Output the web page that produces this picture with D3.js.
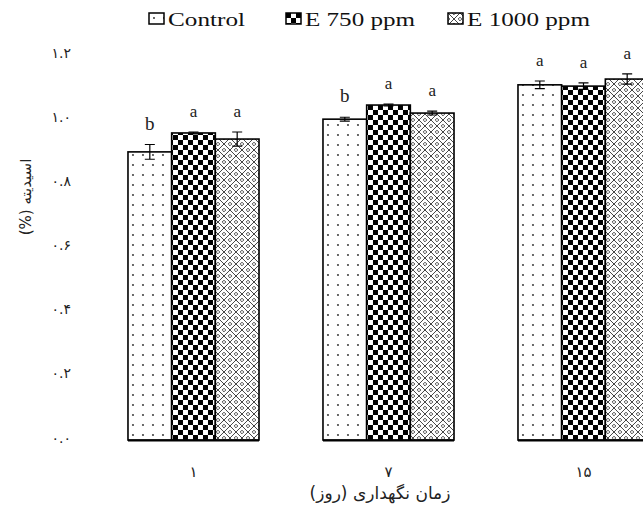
<!DOCTYPE html>
<html>
<head>
<meta charset="utf-8">
<script src="https://cdn.jsdelivr.net/npm/d3@7"></script>
<style>
  body { margin: 0; background: #fff; }
  svg { display: block; }
</style>
</head>
<body>
<div id="chart"></div>
<script>
// values
var categories = ["۱", "۷", "۱۵"];
var seriesNames = ["Control", "E 750 ppm", "E 1000 ppm"];
var controlValues = [0.898, 1.000, 1.107];
var e750Values = [0.957, 1.044, 1.103];
var e1000Values = [0.938, 1.019, 1.125];
var controlErrors = [0.023, 0.006, 0.012];
var e750Errors = [0.003, 0.003, 0.010];
var e1000Errors = [0.022, 0.006, 0.016];
var controlLetters = ["b", "b", "a"];
var e750Letters = ["a", "a", "a"];
var e1000Letters = ["a", "a", "a"];
var yTicks = [0, 0.2, 0.4, 0.6, 0.8, 1.0, 1.2];

var values = [controlValues, e750Values, e1000Values];
var errors = [controlErrors, e750Errors, e1000Errors];
var letters = [controlLetters, e750Letters, e1000Letters];
var fills = ["url(#dots)", "url(#checker)", "url(#lattice)"];

var persianDigits = "۰۱۲۳۴۵۶۷۸۹";
function toPersian(s) {
    return s.replace(/[0-9]/g, function (d) { return persianDigits[+d]; });
}

var width = 643, height = 512;
var faFont = "'DejaVu Sans', sans-serif";
var enFont = "'Liberation Serif', 'Times New Roman', serif";

var svg = d3.select("#chart").append("svg")
    .attr("width", width)
    .attr("height", height);

// fill patterns
var defs = svg.append("defs");

var dots = defs.append("pattern")
    .attr("id", "dots")
    .attr("patternUnits", "userSpaceOnUse")
    .attr("width", 10).attr("height", 10);
dots.append("rect").attr("width", 10).attr("height", 10).attr("fill", "#fff");
dots.append("circle").attr("cx", 5).attr("cy", 5).attr("r", 0.9).attr("fill", "#222");

var checker = defs.append("pattern")
    .attr("id", "checker")
    .attr("patternUnits", "userSpaceOnUse")
    .attr("width", 10).attr("height", 10);
checker.append("rect").attr("width", 10).attr("height", 10).attr("fill", "#fff");
checker.append("rect").attr("width", 5).attr("height", 5).attr("fill", "#000");
checker.append("rect").attr("x", 5).attr("y", 5).attr("width", 5).attr("height", 5).attr("fill", "#000");

var lattice = defs.append("pattern")
    .attr("id", "lattice")
    .attr("patternUnits", "userSpaceOnUse")
    .attr("width", 12).attr("height", 12);
lattice.append("rect").attr("width", 12).attr("height", 12).attr("fill", "#fff");
lattice.append("path")
    .attr("d", "M0,0L12,12M12,0L0,12")
    .attr("stroke", "#444").attr("stroke-width", 1).attr("fill", "none");
lattice.append("path")
    .attr("d", "M6,-1.8L7.8,0L6,1.8L4.2,0Z M6,10.2L7.8,12L6,13.8L4.2,12Z M0,4.2L1.8,6L0,7.8L-1.8,6Z M12,4.2L13.8,6L12,7.8L10.2,6Z")
    .attr("stroke", "#333").attr("stroke-width", 0.9).attr("fill", "none");

// scales
var y = d3.scaleLinear().domain([0, 1.2]).range([440, 55]);

var x0 = d3.scaleBand()
    .domain(categories)
    .range([96, 681])
    .paddingInner(0.328)
    .paddingOuter(0.164);

var x1 = d3.scaleBand()
    .domain(d3.range(seriesNames.length))
    .range([0, x0.bandwidth()]);

// y axis labels
var yAxis = svg.append("g")
    .attr("transform", "translate(74,0)")
    .call(d3.axisLeft(y)
        .tickValues(yTicks)
        .tickSize(0)
        .tickPadding(3)
        .tickFormat(function (d) { return toPersian(d3.format(".1f")(d)); }));
yAxis.select(".domain").remove();
yAxis.selectAll("text")
    .style("font-family", faFont)
    .style("font-size", "14px")
    .style("letter-spacing", "1.5px")
    .attr("fill", "#222")
    .attr("dy", "0.15em");

// x axis labels
var xAxis = svg.append("g")
    .attr("transform", "translate(0," + y(0) + ")")
    .call(d3.axisBottom(x0).tickSize(0).tickPadding(26));
xAxis.select(".domain").remove();
xAxis.selectAll("text")
    .style("font-family", faFont)
    .style("font-size", "15px")
    .attr("fill", "#222");

// bars
var groups = svg.selectAll(".group")
    .data(categories)
    .enter().append("g")
    .attr("class", "group")
    .attr("transform", function (d) { return "translate(" + x0(d) + ",0)"; });

var cells = groups.selectAll(".cell")
    .data(function (d, i) {
        return seriesNames.map(function (s, j) {
            return { s: j, v: values[j][i], e: errors[j][i], l: letters[j][i] };
        });
    })
    .enter().append("g")
    .attr("class", "cell");

cells.append("rect")
    .attr("x", function (d) { return x1(d.s); })
    .attr("y", function (d) { return y(d.v); })
    .attr("width", x1.bandwidth())
    .attr("height", function (d) { return y(0) - y(d.v); })
    .attr("fill", function (d) { return fills[d.s]; })
    .attr("stroke", "#000")
    .attr("stroke-width", 1.6);

// thicker base line under each group
groups.append("line")
    .attr("x1", 0)
    .attr("x2", x0.bandwidth())
    .attr("y1", y(0) + 0.5)
    .attr("y2", y(0) + 0.5)
    .attr("stroke", "#000")
    .attr("stroke-width", 2.2);

// error bars
cells.append("path")
    .attr("d", function (d) {
        var cx = x1(d.s) + x1.bandwidth() / 2;
        var top = y(d.v + d.e), bot = y(d.v - d.e);
        return "M" + cx + "," + top + "V" + bot
            + "M" + (cx - 5) + "," + top + "h10"
            + "M" + (cx - 5) + "," + bot + "h10";
    })
    .attr("stroke", "#000")
    .attr("stroke-width", 1.2)
    .attr("fill", "none");

// significance letters
cells.append("text")
    .attr("x", function (d) { return x1(d.s) + x1.bandwidth() / 2; })
    .attr("y", function (d) { return y(d.v + d.e) - 15; })
    .attr("text-anchor", "middle")
    .style("font-family", enFont)
    .style("font-size", function (d) { return d.l === "b" ? "19px" : "17px"; })
    .attr("fill", "#222")
    .text(function (d) { return d.l; });

// axis titles
svg.append("text")
    .attr("transform", "translate(31,197) rotate(-90)")
    .attr("text-anchor", "middle")
    .attr("direction", "rtl")
    .style("font-family", faFont)
    .style("font-size", "15px")
    .attr("fill", "#222")
    .text("اسیدیته (%)");

svg.append("text")
    .attr("x", 380)
    .attr("y", 499)
    .attr("text-anchor", "middle")
    .attr("direction", "rtl")
    .style("font-family", faFont)
    .style("font-size", "17px")
    .attr("fill", "#222")
    .text("زمان نگهداری (روز)");

// legend
var legendX = [149, 286, 448];
var legendLen = [77, 110, 123];
var legend = svg.selectAll(".legend")
    .data(seriesNames)
    .enter().append("g")
    .attr("class", "legend")
    .attr("transform", function (d, i) { return "translate(" + legendX[i] + ",13)"; });

legend.append("rect")
    .attr("width", 15)
    .attr("height", 11)
    .attr("fill", function (d, i) { return fills[i]; })
    .attr("stroke", "#000")
    .attr("stroke-width", 1.5);

legend.append("text")
    .attr("x", 19)
    .attr("y", 13)
    .attr("textLength", function (d, i) { return legendLen[i]; })
    .attr("lengthAdjust", "spacingAndGlyphs")
    .style("font-family", enFont)
    .style("font-size", "18px")
    .attr("fill", "#111")
    .text(function (d) { return d; });
</script>
</body>
</html>
